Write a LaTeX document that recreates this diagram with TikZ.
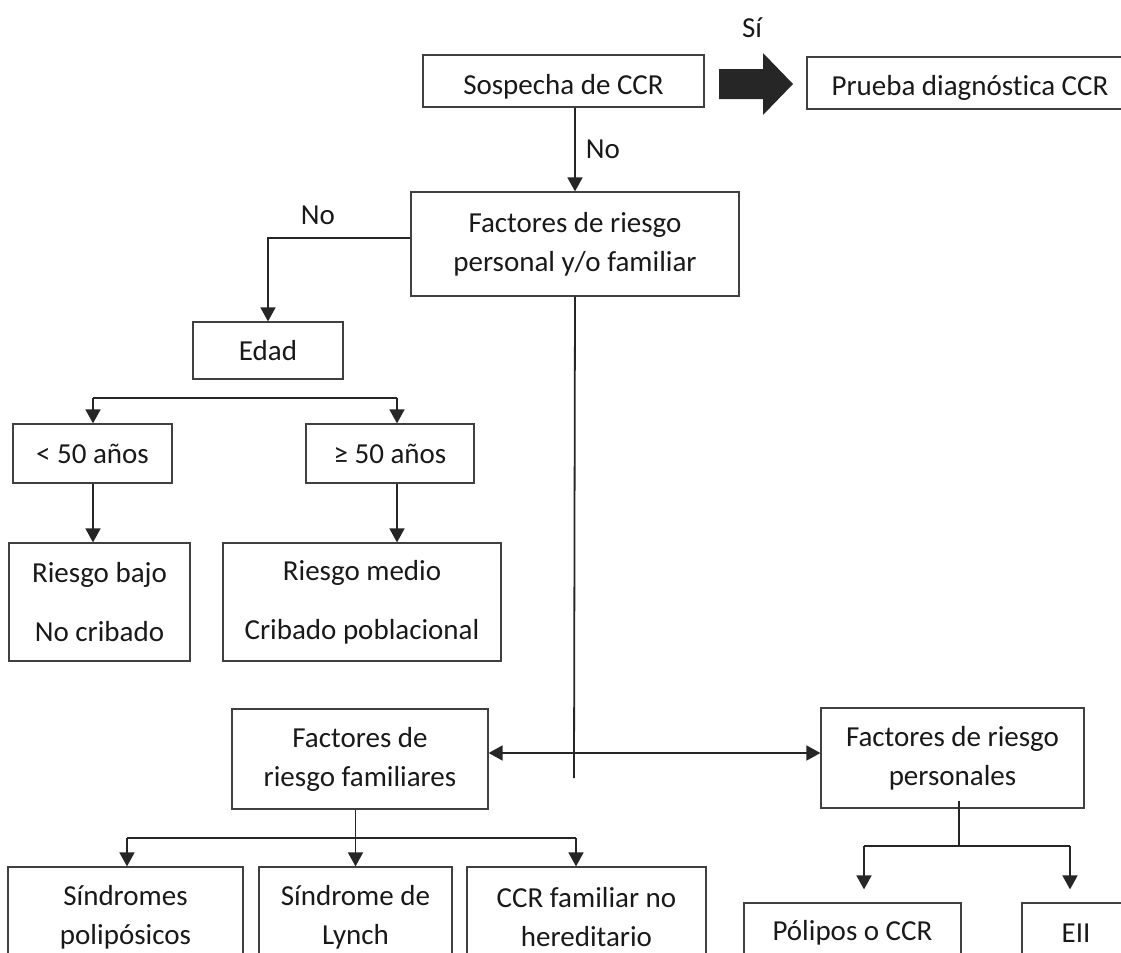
\documentclass[tikz,border=0pt]{standalone}
\usepackage{fontspec}
\setmainfont{Carlito}[Ligatures={NoCommon}]
\usetikzlibrary{arrows.meta, positioning}

\begin{document}
\begin{tikzpicture}[x=0.5pt, y=-0.5pt,
    box/.style={draw=black!75, line width=0.6pt, inner sep=0pt, align=center,
        font=\fontsize{14.5}{19.5}\selectfont, text=black!90},
    low/.style={text height=14pt, text depth=1pt},
    arr/.style={draw=black!85, line width=0.9pt, -{Triangle[length=7pt,width=7.5pt]}},
    lbl/.style={font=\fontsize{14.5}{19.5}\selectfont, text=black!90, inner sep=1pt}]
    \useasboundingbox (0,0) rectangle (1121,953);
    % top row
    \node[box, low, minimum width=140.5pt, minimum height=26pt] (sospecha) at (563.5,81) {Sospecha de CCR};
    \node[box, low, minimum width=163pt, minimum height=26pt] (prueba) at (970,83) {Prueba diagnóstica CCR};
    \fill[black!85] (719,69) -- (763,69) -- (763,53) -- (793,84) -- (763,115) -- (763,99) -- (719,99) -- cycle;
    \node[lbl] (si) at (752,28) {Sí};
    \node[box, minimum width=164pt, minimum height=52pt] (factores) at (575,244)
        {Factores de riesgo\\personal y/o familiar};
    \draw[arr] (sospecha.south -| factores.north) -- node[lbl, right=4pt] {No} (factores.north);
    % edad
    \node[box, minimum width=75pt, minimum height=28.5pt] (edad) at (268,350.5) {Edad};
    \draw[arr] ([yshift=3pt]factores.west) -| node[lbl, above=5pt, pos=0.325] {No} (edad.north);
    \node[box, minimum width=79.5pt, minimum height=29.5pt] (menor) at (92.5,453.5) {< 50 años};
    \node[box, minimum width=84pt, minimum height=29.5pt] (mayor) at (390,453.5) {≥ 50 años};
    \coordinate (edadL) at (93,398);
    \coordinate (edadR) at (397,398);
    \draw[black!85, line width=0.9pt] (edadL) -- (edadR);
    \draw[arr] (edadL) -- (edadL |- menor.north);
    \draw[arr] (edadR) -- (edadR |- mayor.north);
    \node[box, minimum width=90.5pt, minimum height=59pt] (bajo) at (99.5,602) {Riesgo bajo\\[10pt]No cribado};
    \node[box, minimum width=139pt, minimum height=59pt] (medio) at (362,602) {Riesgo medio\\[10pt]Cribado poblacional};
    \draw[arr] (edadL |- menor.south) -- (edadL |- bajo.north);
    \draw[arr] (edadR |- mayor.south) -- (edadR |- medio.north);
    % familiares / personales
    \node[box, minimum width=128pt, minimum height=50pt] (familiares) at (360,759) {Factores de\\riesgo familiares};
    \node[box, minimum width=131.5pt, minimum height=50pt] (personales) at (952.5,758) {Factores de riesgo\\personales};
    \coordinate (cruce) at (574,753);
    \draw[black!85, line width=0.9pt] (factores.south) -- (574,778);
    \draw[arr] (cruce) -- (cruce -| familiares.east);
    \draw[arr] (cruce) -- (cruce -| personales.west);
    % familiares branch
    \node[box, minimum width=117.5pt, minimum height=50.5pt] (sindromes) at (125.5,917.5) {Síndromes\\polipósicos};
    \node[box, minimum width=96.5pt, minimum height=50.5pt] (lynch) at (355.5,917.5) {Síndrome de\\Lynch};
    \node[box, minimum width=119.5pt, minimum height=50.5pt] (ccrfam) at (586.5,917.5) {CCR familiar no\\hereditario};
    \coordinate (famL) at (127,838);
    \coordinate (famR) at (576,838);
    \draw[black!85, line width=0.9pt] (famL) -- (famR);
    \draw[arr] (familiares.south -| lynch.north) -- (lynch.north);
    \draw[arr] (famL) -- (famL |- sindromes.north);
    \draw[arr] (famR) -- (famR |- ccrfam.north);
    % personales branch
    \node[box, minimum width=108.5pt, minimum height=30pt] (polipos) at (852.5,933) {Pólipos o CCR};
    \node[box, minimum width=54pt, minimum height=30pt] (eii) at (1076,933) {EII};
    \coordinate (persM) at (959,846);
    \coordinate (persL) at (864,846);
    \coordinate (persR) at (1070,846);
    \draw[black!85, line width=0.9pt] ([yshift=4pt]personales.south -| persM) -- (persM);
    \draw[black!85, line width=0.9pt] (persL) -- (persR);
    \draw[arr, shorten >=6.5pt] (persL) -- (persL |- polipos.north);
    \draw[arr, shorten >=6.5pt] (persR) -- (persR |- eii.north);
\end{tikzpicture}
\end{document}
